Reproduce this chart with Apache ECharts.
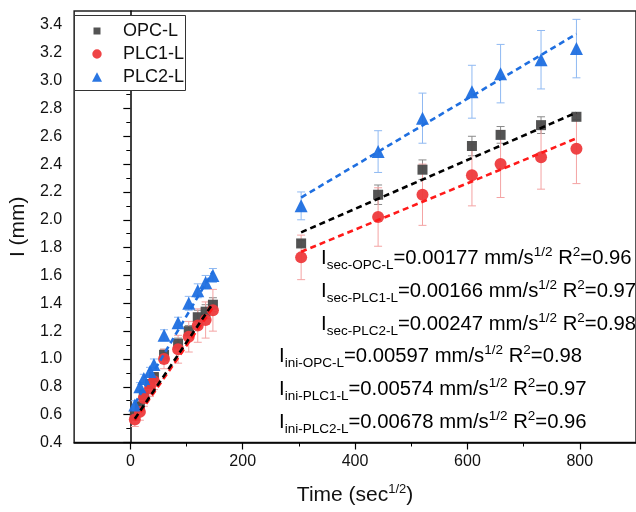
<!DOCTYPE html>
<html><head><meta charset="utf-8">
<script src="https://cdn.jsdelivr.net/npm/echarts@6/dist/echarts.min.js"></script>
<style>html,body{margin:0;padding:0;background:#fff}#c{width:636px;height:512px}</style>
</head><body><div id="c"></div>
<script>
// ---------- data ----------
const seriesNames = ['OPC-L', 'PLC1-L', 'PLC2-L'];
const xIni = [8, 17, 24, 35, 42, 60, 85, 104, 120, 134, 147];
const xSec = [304, 441, 520, 608, 659, 731, 794];

const opcIni = [0.59, 0.66, 0.74, 0.82, 0.87, 1.03, 1.11, 1.20, 1.30, 1.34, 1.39];
const opcIniErr = [0.03, 0.03, 0.03, 0.03, 0.03, 0.04, 0.04, 0.04, 0.05, 0.05, 0.05];
const plc1Ini = [0.565, 0.62, 0.72, 0.79, 0.84, 1.00, 1.07, 1.16, 1.24, 1.28, 1.35];
const plc1IniErr = [0.05, 0.06, 0.06, 0.06, 0.06, 0.07, 0.10, 0.11, 0.12, 0.13, 0.15];
const plc2Ini = [0.67, 0.80, 0.86, 0.91, 0.96, 1.17, 1.26, 1.40, 1.49, 1.55, 1.60];
const plc2IniErr = [0.03, 0.03, 0.03, 0.03, 0.04, 0.04, 0.04, 0.05, 0.05, 0.05, 0.05];

const opcSec = [1.83, 2.18, 2.36, 2.53, 2.61, 2.68, 2.74];
const opcSecErr = [0.02, 0.07, 0.07, 0.07, 0.06, 0.06, 0.02];
const plc1Sec = [1.73, 2.02, 2.18, 2.32, 2.40, 2.45, 2.51];
const plc1SecErr = [0.16, 0.21, 0.22, 0.22, 0.24, 0.23, 0.25];
const plc2Sec = [2.10, 2.49, 2.73, 2.92, 3.05, 3.15, 3.23];
const plc2SecErr = [0.10, 0.15, 0.18, 0.19, 0.21, 0.21, 0.21];

// fitted lines (end points)
const fitXIni = [8, 147];
const fitXSec = [304, 794];
const opcFitIni = [0.57, 1.40];
const plc1FitIni = [0.56, 1.37];
const plc2FitIni = [0.68, 1.63];
const opcFitSec = [1.91, 2.77];
const plc1FitSec = [1.77, 2.585];
const plc2FitSec = [2.16, 3.335];

// annotation text
const secSubs = ['sec-OPC-L', 'sec-PLC1-L', 'sec-PLC2-L'];
const secSlopes = ['0.00177', '0.00166', '0.00247'];
const secR2 = ['0.96', '0.97', '0.98'];
const iniSubs = ['ini-OPC-L', 'ini-PLC1-L', 'ini-PLC2-L'];
const iniSlopes = ['0.00597', '0.00574', '0.00678'];
const iniR2 = ['0.98', '0.97', '0.96'];

const xTicks = [0, 200, 400, 600, 800];
const xMinorTicks = [100, 300, 500, 700];
const yTicks = [0.4, 0.6, 0.8, 1.0, 1.2, 1.4, 1.6, 1.8, 2.0, 2.2, 2.4, 2.6, 2.8, 3.0, 3.2, 3.4];
const yMinorTicks = [0.5, 0.7, 0.9, 1.1, 1.3, 1.5, 1.7, 1.9, 2.1, 2.3, 2.5, 2.7, 2.9, 3.1, 3.3];

// ---------- chart ----------
const F = "'Liberation Sans', Arial, sans-serif";
const colors = ['#4a4a4a', '#ee3a3c', '#1f6fe0'];
const errColors = ['#8a8a8a', '#f4a3a3', '#8fb9f2'];
const lineColors = ['#000000', '#ff1a1a', '#1f6fe0'];
const symbols = ['rect', 'circle', 'triangle'];
const symSizes = [10, 12, 13];
const legendIcons = [
  'path://M0,0M1.5,1.5L8.5,1.5L8.5,8.5L1.5,8.5ZM10,10',
  'path://M0,0M0.3,5A4.7,4.7,0,1,1,9.7,5A4.7,4.7,0,1,1,0.3,5ZM10,10',
  'path://M5,0.3L10,9.7L0,9.7ZM0,0M10,10'
];

const iniY = [opcIni, plc1Ini, plc2Ini], iniE = [opcIniErr, plc1IniErr, plc2IniErr];
const secY = [opcSec, plc1Sec, plc2Sec], secE = [opcSecErr, plc1SecErr, plc2SecErr];
const fitIni = [opcFitIni, plc1FitIni, plc2FitIni], fitSec = [opcFitSec, plc1FitSec, plc2FitSec];

function pts(xs, ys) { return xs.map((x, i) => [x, ys[i]]); }
function errs(xs, ys, es) { return xs.map((x, i) => [x, ys[i] - es[i], ys[i] + es[i]]); }

function errRender(color) {
  return function (params, api) {
    const x = api.value(0), lo = api.value(1), hi = api.value(2);
    const p1 = api.coord([x, lo]), p2 = api.coord([x, hi]);
    const w = 4;
    const st = { stroke: color, lineWidth: 1 };
    return { type: 'group', children: [
      { type: 'line', shape: { x1: p1[0], y1: p1[1], x2: p2[0], y2: p2[1] }, style: st },
      { type: 'line', shape: { x1: p1[0] - w, y1: p1[1], x2: p1[0] + w, y2: p1[1] }, style: st },
      { type: 'line', shape: { x1: p2[0] - w, y1: p2[1], x2: p2[0] + w, y2: p2[1] }, style: st }
    ]};
  };
}

const series = [];
for (let k = 0; k < 3; k++) {
  series.push({
    type: 'custom', name: seriesNames[k] + '-err', renderItem: errRender(errColors[k]),
    data: errs(xIni, iniY[k], iniE[k]).concat(errs(xSec, secY[k], secE[k])),
    encode: { x: 0, y: [1, 2] }, z: 1, silent: true
  });
}
for (let k = 0; k < 3; k++) {
  series.push({
    type: 'scatter', name: seriesNames[k], symbol: symbols[k], symbolSize: symSizes[k],
    itemStyle: { color: colors[k], opacity: 0.95 },
    data: pts(xIni, iniY[k]).concat(pts(xSec, secY[k])), z: 3
  });
}
const lineOrder = [2, 1, 0];
for (const k of lineOrder) {
  series.push({ type: 'line', name: seriesNames[k] + '-fit-ini', data: pts(fitXIni, fitIni[k]), symbol: 'none',
    lineStyle: { color: lineColors[k], width: 2.6, type: [6, 4] }, z: 4, silent: true });
  series.push({ type: 'line', name: seriesNames[k] + '-fit-sec', data: pts(fitXSec, fitSec[k]), symbol: 'none',
    lineStyle: { color: lineColors[k], width: 2.6, type: [6, 4] }, z: 4, silent: true });
}

const rich = {
  m: { fontSize: 20.3, fontFamily: F, color: '#111', lineHeight: 27 },
  s: { fontSize: 13.5, fontFamily: F, color: '#111', lineHeight: 15, verticalAlign: 'bottom' },
  p: { fontSize: 13.5, fontFamily: F, color: '#111', lineHeight: 12, verticalAlign: 'top' }
};
function annText(sub, slope, r2) {
  return '{m|I}{s|' + sub + '}{m|=' + slope + ' mm/s}{p|1/2}{m| R}{p|2}{m|=' + r2 + '}';
}
const graphics = [
  { type: 'rect', left: 74, top: 15, shape: { width: 111, height: 75 }, style: { fill: '#fff', stroke: '#333', lineWidth: 1 }, z: 3 }
];
const secTop = [245, 278, 311];
const iniTop = [343, 376, 409];
for (let i = 0; i < 3; i++) {
  graphics.push({ type: 'text', left: 321, top: secTop[i], style: { text: annText(secSubs[i], secSlopes[i], secR2[i]), rich: rich } });
  graphics.push({ type: 'text', left: 279, top: iniTop[i], style: { text: annText(iniSubs[i], iniSlopes[i], iniR2[i]), rich: rich } });
}

const chart = echarts.init(document.getElementById('c'), null, { renderer: 'canvas' });
chart.setOption({
  animation: false,
  backgroundColor: '#fff',
  grid: { left: 71, right: -4, top: 11, bottom: 69.5, show: true, borderColor: '#222', borderWidth: 1.5, backgroundColor: 'transparent' },
  legend: {
    data: seriesNames.map((n, i) => ({ name: n, icon: legendIcons[i] })),
    orient: 'vertical', left: 92, top: 20, z: 6,
    padding: 0, itemGap: 1, itemWidth: 10, itemHeight: 10,
    borderWidth: 0,
    formatter: '{g|}{t|{name}}',
    textStyle: { fontFamily: F, fontSize: 18, color: '#111', lineHeight: 22,
      rich: { g: { width: 16 }, t: { fontFamily: F, fontSize: 18, color: '#111', lineHeight: 22 } } }
  },
  xAxis: [{
    type: 'value', min: -100, max: 900,
    name: '{m|Time (sec}{p|1/2}{m|)}', nameLocation: 'middle', nameGap: 40,
    nameTextStyle: { rich: { m: { fontSize: 21, fontFamily: F, color: '#111', lineHeight: 26 }, p: { fontSize: 13, fontFamily: F, color: '#111', lineHeight: 13, verticalAlign: 'top' } } },
    axisLine: { show: true, lineStyle: { color: '#000', width: 1.5 } },
    axisTick: { show: true, inside: false, length: 7, customValues: xTicks, lineStyle: { color: '#000', width: 1.2 } },
    axisLabel: { show: true, customValues: xTicks, margin: 11, fontFamily: F, fontSize: 16, color: '#111' },
    splitLine: { show: false }
  }, {
    type: 'value', min: -100, max: 900, position: 'bottom', offset: 0,
    axisLine: { show: false },
    axisTick: { show: true, inside: false, length: 4, customValues: xMinorTicks, lineStyle: { color: '#000', width: 1 } },
    axisLabel: { show: false }, splitLine: { show: false }
  }],
  yAxis: [{
    type: 'value', min: 0.4, max: 3.5,
    name: 'I (mm)', nameLocation: 'middle', nameGap: 30, nameRotate: 90,
    nameTextStyle: { fontFamily: F, fontSize: 21, color: '#111' },
    axisLine: { show: true, lineStyle: { color: '#000', width: 1.5 } },
    axisTick: { show: true, inside: false, length: 7, customValues: yTicks, lineStyle: { color: '#000', width: 1.2 } },
    axisLabel: { show: true, customValues: yTicks, margin: 12, fontFamily: F, fontSize: 16, color: '#111', formatter: v => v.toFixed(1) },
    splitLine: { show: false }
  }, {
    type: 'value', min: 0.4, max: 3.5, position: 'left', offset: 0,
    axisLine: { show: false },
    axisTick: { show: true, inside: false, length: 4, customValues: yMinorTicks, lineStyle: { color: '#000', width: 1 } },
    axisLabel: { show: false }, splitLine: { show: false }
  }],
  series: series,
  graphic: graphics
});
</script>
</body></html>
